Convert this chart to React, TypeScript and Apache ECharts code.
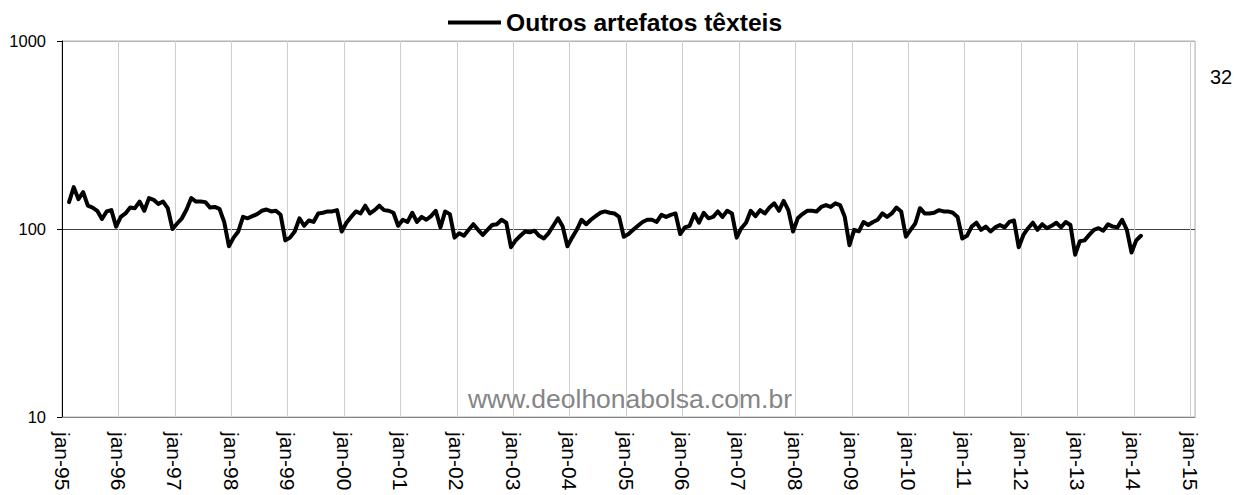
import React, { useEffect, useRef } from "react";
import * as echarts from "echarts";

const FONT = "'Liberation Sans', Arial, sans-serif";

// Monthly series, feb-95 .. feb-14 (log scale, index)
const seriesName = "Outros artefatos têxteis";
const firstYear = 1995;
const firstMonthIndex = 1; // february 1995 (0 = jan-95)
const values: number[] = [
  // 1995 (feb..dec)
  139, 167, 144, 157, 133, 130, 125, 113, 124, 126, 103,
  // 1996
  116, 121, 130, 129, 140, 125, 146, 143, 136, 140, 129, 100,
  // 1997
  107, 114, 127, 146, 140, 140, 139, 130, 131, 128, 109, 81,
  // 1998
  90, 97, 116, 114, 117, 120, 125, 127, 124, 125, 119, 87,
  // 1999
  90, 97, 114, 104, 111, 109, 121, 122, 124, 124, 126, 97,
  // 2000
  108, 116, 124, 121, 133, 121, 126, 133, 126, 125, 122, 104,
  // 2001
  112, 109, 122, 109, 116, 112, 117, 125, 102, 124, 120, 90,
  // 2002
  95, 92, 99, 106, 99, 93, 99, 105, 106, 112, 108, 80,
  // 2003
  87, 92, 97, 96, 98, 92, 89, 95, 104, 114, 103, 81,
  // 2004
  90, 99, 112, 106, 112, 117, 122, 124, 122, 121, 116, 91,
  // 2005
  94, 99, 104, 109, 112, 112, 109, 119, 116, 119, 121, 94,
  // 2006
  102, 104, 120, 108, 122, 114, 116, 124, 116, 125, 121, 90,
  // 2007
  101, 108, 125, 117, 126, 121, 130, 137, 125, 141, 126, 97,
  // 2008
  114, 120, 125, 125, 124, 131, 134, 131, 137, 134, 116, 82,
  // 2009
  99, 97, 109, 105, 109, 112, 121, 116, 121, 130, 124, 91,
  // 2010
  99, 107, 129, 121, 121, 122, 126, 124, 124, 122, 116, 89,
  // 2011
  92, 103, 108, 99, 103, 97, 102, 105, 102, 109, 111, 80,
  // 2012
  93, 101, 108, 99, 106, 101, 104, 108, 102, 109, 105, 73,
  // 2013
  86, 87, 93, 99, 101, 98, 106, 103, 102, 112, 99, 75,
  // 2014 (jan, feb)
  87, 92,
];

const yTicks = [10, 100, 1000];
const xMax = 241; // months from jan-95 to the right edge of the plot
const yearStep = 12;
const sideNote = "32";
const watermark = "www.deolhonabolsa.com.br";

export default function App() {
  const ref = useRef<HTMLDivElement>(null);

  useEffect(() => {
    if (!ref.current) return;
    const chart = echarts.init(ref.current, undefined, { renderer: "svg" });
    const data = values.map((v, i) => [firstMonthIndex + i + 0.5, v]);

    chart.setOption({
      animation: false,
      backgroundColor: "#ffffff",
      textStyle: { fontFamily: FONT },
      grid: {
        left: 62,
        right: 39,
        top: 41,
        bottom: 78,
        show: true,
        borderColor: "#b3b3b3",
        borderWidth: 1,
        outerBoundsMode: "none",
      },
      legend: {
        show: true,
        data: [seriesName],
        left: 443,
        top: 5,
        icon: "rect",
        itemWidth: 53,
        itemHeight: 4,
        itemGap: 5,
        textStyle: {
          fontFamily: FONT,
          fontSize: 24.6,
          fontWeight: "bold",
          color: "#000000",
        },
      },
      xAxis: {
        type: "value",
        min: 0,
        max: xMax,
        interval: yearStep,
        axisLine: { show: true, lineStyle: { color: "#868686", width: 1 } },
        axisTick: { show: false },
        splitLine: { show: true, lineStyle: { color: "#cfcfcf", width: 1 } },
        axisLabel: {
          rotate: -90,
          margin: 15,
          fontFamily: FONT,
          fontSize: 21,
          color: "#000000",
          showMinLabel: true,
          showMaxLabel: true,
          formatter: (val: number) => {
            if (val % yearStep !== 0) return "";
            const y = (firstYear + val / yearStep) % 100;
            return "jan-" + String(y).padStart(2, "0");
          },
        },
      },
      yAxis: {
        type: "log",
        logBase: 10,
        min: yTicks[0],
        max: yTicks[yTicks.length - 1],
        axisLine: { show: true, lineStyle: { color: "#000000", width: 1 } },
        axisTick: { show: true, length: 5, lineStyle: { color: "#000000" } },
        axisLabel: {
          margin: 16,
          fontFamily: FONT,
          fontSize: 16.5,
          color: "#000000",
          formatter: (v: number) => String(Math.round(v)),
        },
        splitLine: {
          show: true,
          lineStyle: { color: ["#868686", "#404040", "#b3b3b3"], width: 1 },
        },
      },
      series: [
        {
          name: seriesName,
          type: "line",
          data,
          showSymbol: false,
          symbol: "none",
          smooth: false,
          lineStyle: { color: "#000000", width: 4, cap: "round", join: "round" },
          itemStyle: { color: "#000000" },
          z: 5,
        },
      ],
      graphic: [
        {
          type: "text",
          left: 1210,
          top: 67,
          style: {
            text: sideNote,
            fontFamily: FONT,
            fontSize: 20,
            fill: "#000000",
          },
        },
        {
          type: "text",
          x: 630,
          y: 399,
          z: 10,
          style: {
            text: watermark,
            fontFamily: FONT,
            fontSize: 26.5,
            fill: "#858585",
            align: "center",
            verticalAlign: "middle",
          },
        },
      ],
    });

    return () => chart.dispose();
  }, []);

  return (
    <div
      ref={ref}
      style={{ position: "fixed", left: 0, top: 0, width: 1234, height: 495 }}
    />
  );
}
